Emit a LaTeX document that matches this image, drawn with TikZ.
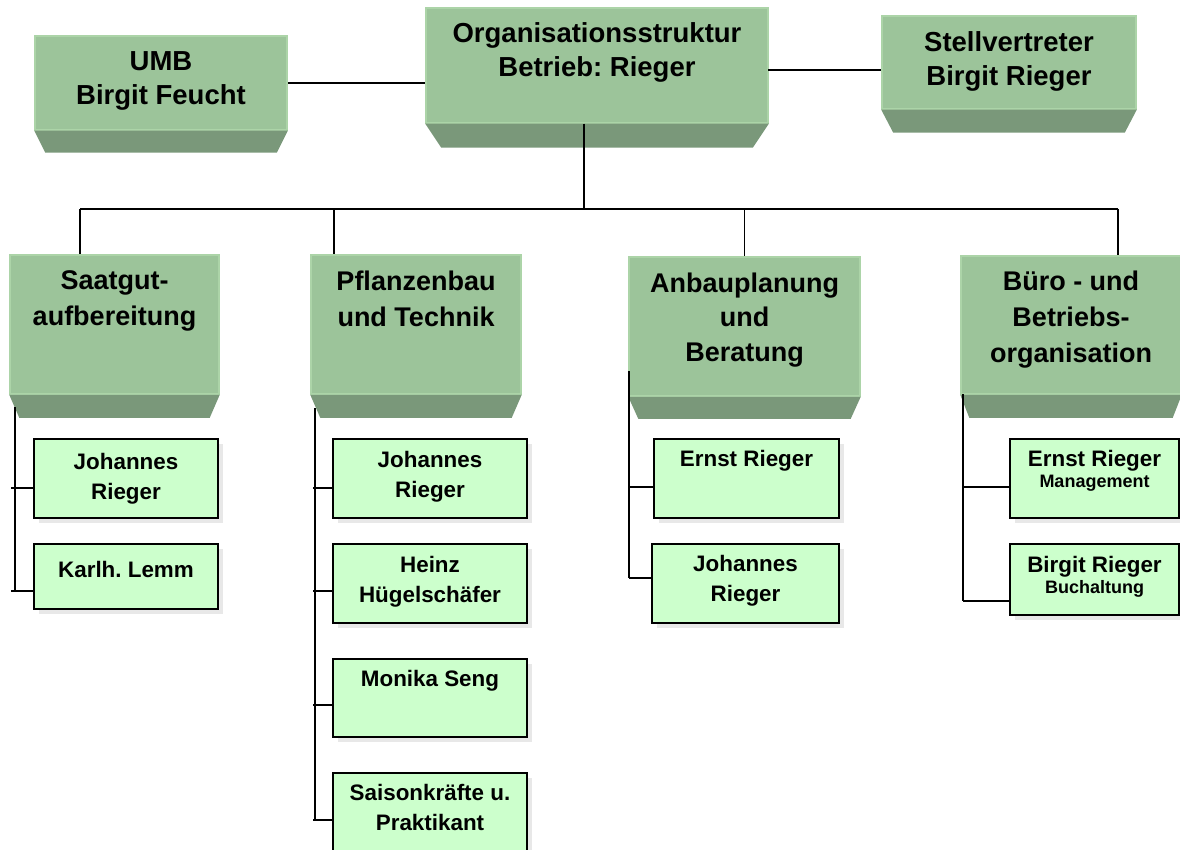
\documentclass[tikz,border=0pt]{standalone}
\usepackage{fontspec}
\setmainfont{Liberation Sans}
\usepackage{tikz}
\usetikzlibrary{positioning,shadows}
\frenchspacing

\definecolor{facegreen}{RGB}{156,196,154}
\definecolor{faceedge}{RGB}{172,212,168}
\definecolor{bevelgreen}{RGB}{122,152,122}
\definecolor{persongreen}{RGB}{204,255,204}

% dark lower part under a box
\newcommand{\boxbevel}[3]{\fill[bevelgreen] (#1.south west) -- (#1.south east) -- ([xshift=-#2pt,yshift=-#3pt]#1.south east) -- ([xshift=#2pt,yshift=-#3pt]#1.south west) -- cycle;}

\tikzset{
	face/.style={draw=faceedge, line width=1.5pt, fill=facegreen, inner sep=0pt},
	toptext/.style={font=\bfseries\fontsize{27.5}{34}\selectfont, align=center, inner sep=0pt},
	depttext/.style={font=\bfseries\fontsize{27}{36}\selectfont, align=center, inner sep=0pt},
	person/.style={draw=black, line width=1.8pt, fill=persongreen, inner sep=0pt,
		drop shadow={shadow xshift=5pt, shadow yshift=-5pt, fill=black!9, opacity=1}},
	persontext/.style={font=\bfseries\fontsize{22.4}{30}\selectfont, align=center, inner sep=0pt},
	subtext/.style={font=\bfseries\fontsize{22.4}{21}\selectfont, align=center, inner sep=0pt},
	link/.style={line width=1.8pt}
}

\begin{document}
\begin{tikzpicture}[x=1pt,y=-1pt]
		\useasboundingbox (0,0) rectangle (1180,850);
		% top row
		\node[face, minimum width=252pt, minimum height=94pt] (umb) at (161,83) {};
		\boxbevel{umb}{11}{22}
		\node[toptext, below=16pt of umb.north] (umbt) {UMB\\Birgit Feucht};
		\node[face, minimum width=342pt, minimum height=115pt] (org) at (597,65.5) {};
		\boxbevel{org}{16}{24}
		\node[toptext, below=15pt of org.north] (orgt) {Organisationsstruktur\\Betrieb: Rieger};
		\node[face, minimum width=254pt, minimum height=93pt] (stv) at (1009,62.5) {};
		\boxbevel{stv}{12}{23}
		\node[toptext, below=16pt of stv.north] (stvt) {Stellvertreter\\Birgit Rieger};
		% departments
		\node[face, minimum width=209pt, minimum height=139pt] (saat) at (114.5,324.5) {};
		\boxbevel{saat}{10}{23}
		\node[depttext, below=16pt of saat.north] (saatt) {Saatgut-\\aufbereitung};
		\node[face, minimum width=210pt, minimum height=139pt] (pfl) at (416,324.5) {};
		\boxbevel{pfl}{10}{23}
		\node[depttext, below=16pt of pfl.north] (pflt) {Pflanzenbau\\und Technik};
		\node[face, minimum width=231pt, minimum height=139pt] (anb) at (744.5,326.5) {};
		\boxbevel{anb}{10}{22}
		\node[depttext, font=\bfseries\fontsize{27}{34.5}\selectfont, below=16pt of anb.north] (anbt) {Anbauplanung\\und\\Beratung};
		\node[face, minimum width=220pt, minimum height=138pt] (bur) at (1071,325) {};
		\boxbevel{bur}{9}{23}
		\node[depttext, below=15pt of bur.north] (burt) {Büro - und\\Betriebs-\\organisation};
		% people
		\node[person, minimum width=184pt, minimum height=79pt] (sj1) at (126,478.5) {};
		\node[persontext, below=15pt of sj1.north] (sj1t) {Johannes\\Rieger};
		\node[person, minimum width=184pt, minimum height=65pt] (sk2) at (126,576.5) {};
		\node[persontext, below=18pt of sk2.north] (sk2t) {Karlh. Lemm};
		\node[person, minimum width=194pt, minimum height=79pt] (pj1) at (430,478.5) {};
		\node[persontext, below=13pt of pj1.north] (pj1t) {Johannes\\Rieger};
		\node[person, minimum width=194pt, minimum height=79pt] (ph2) at (430,583.5) {};
		\node[persontext, below=13pt of ph2.north] (ph2t) {Heinz\\Hügelschäfer};
		\node[person, minimum width=194pt, minimum height=78pt] (pm3) at (430,698) {};
		\node[persontext, below=12pt of pm3.north] (pm3t) {Monika Seng};
		\node[person, minimum width=194pt, minimum height=80pt] (ps4) at (430,813) {};
		\node[persontext, below=12pt of ps4.north] (ps4t) {Saisonkräfte u.\\Praktikant};
		\node[person, minimum width=185pt, minimum height=79pt] (ae1) at (746.5,478.5) {};
		\node[persontext, below=12pt of ae1.north] (ae1t) {Ernst Rieger};
		\node[person, minimum width=187pt, minimum height=79pt] (aj2) at (745.5,583.5) {};
		\node[persontext, below=12pt of aj2.north] (aj2t) {Johannes\\Rieger};
		\node[person, minimum width=169pt, minimum height=79pt] (be1) at (1094.5,478.5) {};
		\node[subtext, below=12pt of be1.north] (be1t) {Ernst Rieger\\{\fontsize{18}{21}\selectfont Management}};
		\node[person, minimum width=169pt, minimum height=71pt] (bb2) at (1094.5,579.5) {};
		\node[subtext, below=13pt of bb2.north] (bb2t) {Birgit Rieger\\{\fontsize{18}{21}\selectfont Buchaltung}};
		% top links
		\draw[link] (umb.east) -- (umb.east -| org.west);
		\coordinate (orgR) at (768,70);
		\draw[link] (orgR) -- (orgR -| stv.west);
		\coordinate (bus) at (584,209);
		\coordinate (busL) at (80,209);
		\coordinate (busP) at (334,209);
		\coordinate (busR) at (1118,209);
		\draw[link] (org.south -| bus) -- (bus);
		\draw[link] (busL) -- (busR);
		\draw[link] (busL) -- (busL |- saat.north);
		\draw[link] (busP) -- (busP |- pfl.north);
		\draw[link] (anb.north |- bus) -- (anb.north);
		\draw[link] (busR) -- (busR |- bur.north);
		% Saatgut column
		\coordinate (sc) at (15,407);
		\coordinate (s1) at (11,488);
		\coordinate (s2) at (11,591);
		\draw[link] (sc) -- (sc |- s2);
		\draw[link] (s1) -- (s1 -| sj1.west);
		\draw[link] (s2) -- (s2 -| sk2.west);
		% Pflanzenbau column
		\coordinate (pc) at (315,408);
		\coordinate (p1) at (313,488);
		\coordinate (p2) at (313,591);
		\coordinate (p3) at (313,705);
		\coordinate (p4) at (313,820);
		\draw[link] (pc) -- (pc |- p4);
		\draw[link] (p1) -- (p1 -| pj1.west);
		\draw[link] (p2) -- (p2 -| ph2.west);
		\draw[link] (p3) -- (p3 -| pm3.west);
		\draw[link] (p4) -- (p4 -| ps4.west);
		% Anbauplanung column
		\coordinate (ac) at (629,371);
		\coordinate (a1) at (629,487);
		\coordinate (a2) at (629,578);
		\draw[link] (ac) -- (a2);
		\draw[link] (a1) -- (a1 -| ae1.west);
		\draw[link] (a2) -- (a2 -| aj2.west);
		% Buero column
		\coordinate (bc) at (963,394);
		\coordinate (c1) at (963,487);
		\coordinate (c2) at (963,601);
		\draw[link] (bc) -- (c2);
		\draw[link] (c1) -- (c1 -| be1.west);
		\draw[link] (c2) -- (c2 -| bb2.west);
\end{tikzpicture}
\end{document}
